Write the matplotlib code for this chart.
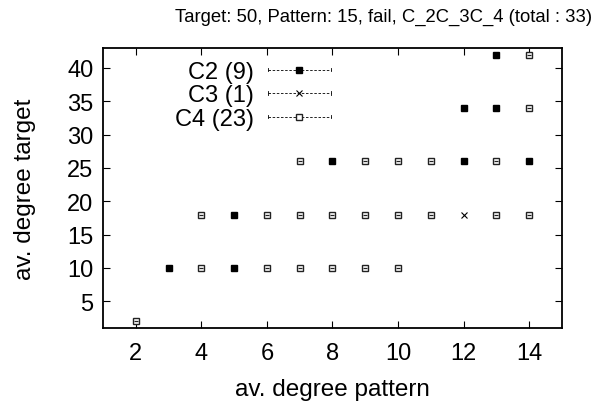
import matplotlib
matplotlib.use("Agg")
import matplotlib.pyplot as plt
from matplotlib.lines import Line2D
from matplotlib.legend_handler import HandlerLine2D

# ----- Data (av. degree pattern, av. degree target) -----
c2_x = [3, 5, 5, 8, 12, 12, 13, 13, 14]
c2_y = [10, 10, 18, 26, 26, 34, 34, 42, 26]

c3_x = [12]
c3_y = [18]

c4_x = [2, 4, 6, 7, 8, 9, 10,
        4, 6, 7, 8, 9, 10, 11, 13, 14,
        7, 9, 10, 11, 13,
        14, 14]
c4_y = [2, 10, 10, 10, 10, 10, 10,
        18, 18, 18, 18, 18, 18, 18, 18, 18,
        26, 26, 26, 26, 26,
        34, 42]

x_ticks = [2, 4, 6, 8, 10, 12, 14]
y_ticks = [5, 10, 15, 20, 25, 30, 35, 40]

title = "Target: 50, Pattern: 15, fail, C_2C_3C_4 (total : 33)"

plt.rcParams['font.family'] = ['Liberation Sans', 'DejaVu Sans']
FS = 17


class KeyHandler(HandlerLine2D):
    # gnuplot key sample: dashed line with small end ticks
    def create_artists(self, legend, orig_handle, xdescent, ydescent, width, height,
                       fontsize, trans):
        artists = super().create_artists(legend, orig_handle, xdescent, ydescent,
                                         width, height, fontsize, trans)
        yc = (height - ydescent) / 2
        for xe in (-xdescent, -xdescent + width):
            artists.append(Line2D([xe, xe], [yc - 1.2, yc + 1.2], color='black',
                                  linewidth=0.6, transform=trans))
        return artists


fig = plt.figure(figsize=(6.11, 4.06), dpi=100)
ax = fig.add_axes([103 / 611, 1 - 329 / 406, (562 - 103) / 611, (329 - 49) / 406])

dash = (0, (3, 2))
ax.plot(c2_x, c2_y, linestyle='none', color='black',
        marker='s', markersize=4.8, markerfacecolor='black', markeredgecolor='black',
        label=f"C2 ({len(c2_x)})")
ax.plot(c3_x, c3_y, linestyle='none', color='black',
        marker='x', markersize=4, markeredgewidth=0.8,
        label=f"C3 ({len(c3_x)})")
ax.plot(c4_x, c4_y, linestyle='none', color='black',
        marker='s', markersize=4.6, markerfacecolor='white', markeredgecolor='#222222',
        markeredgewidth=1.0, label=f"C4 ({len(c4_x)})")
# small inner mark of the gnuplot box point
ax.plot(c4_x, c4_y, linestyle='none', marker='_', markersize=2.2,
        markeredgewidth=0.9, color='#222222')

# gnuplot-style key: right-aligned labels, sample line after the text
handles = ax.lines[:3]
leg = fig.legend(handles, [l.get_label() for l in handles],
                 loc='upper right', bbox_to_anchor=(331 / 611, 1 - 62 / 406),
                 bbox_transform=fig.transFigure, frameon=False,
                 markerfirst=False, fontsize=FS, handlelength=2.67, handletextpad=0.6,
                 labelspacing=0.06, borderaxespad=0, borderpad=0,
                 handler_map={h: KeyHandler() for h in handles})
for h in leg.legend_handles:
    h.set_linestyle(dash)
    h.set_linewidth(0.6)
for t in leg.get_texts():
    t.set_ha('right')

ax.set_xlim(1, 15)
ax.set_ylim(1, 43)
ax.set_xticks(x_ticks)
ax.set_yticks(y_ticks)
ax.tick_params(direction='in', top=True, right=True, labeltop=False, labelright=False,
               length=5, width=0.8, labelsize=FS)
ax.tick_params(axis='x', pad=10)
ax.tick_params(axis='y', pad=7)
for s in ax.spines.values():
    s.set_linewidth(1.3)

ax.set_xlabel("av. degree pattern", fontsize=17.5, labelpad=10)
ax.set_ylabel("av. degree target", fontsize=17.5, labelpad=22)
fig.text(0.628, 0.958, title, ha='center', va='center', fontsize=13.3)

fig.savefig("out.png", dpi=100)
